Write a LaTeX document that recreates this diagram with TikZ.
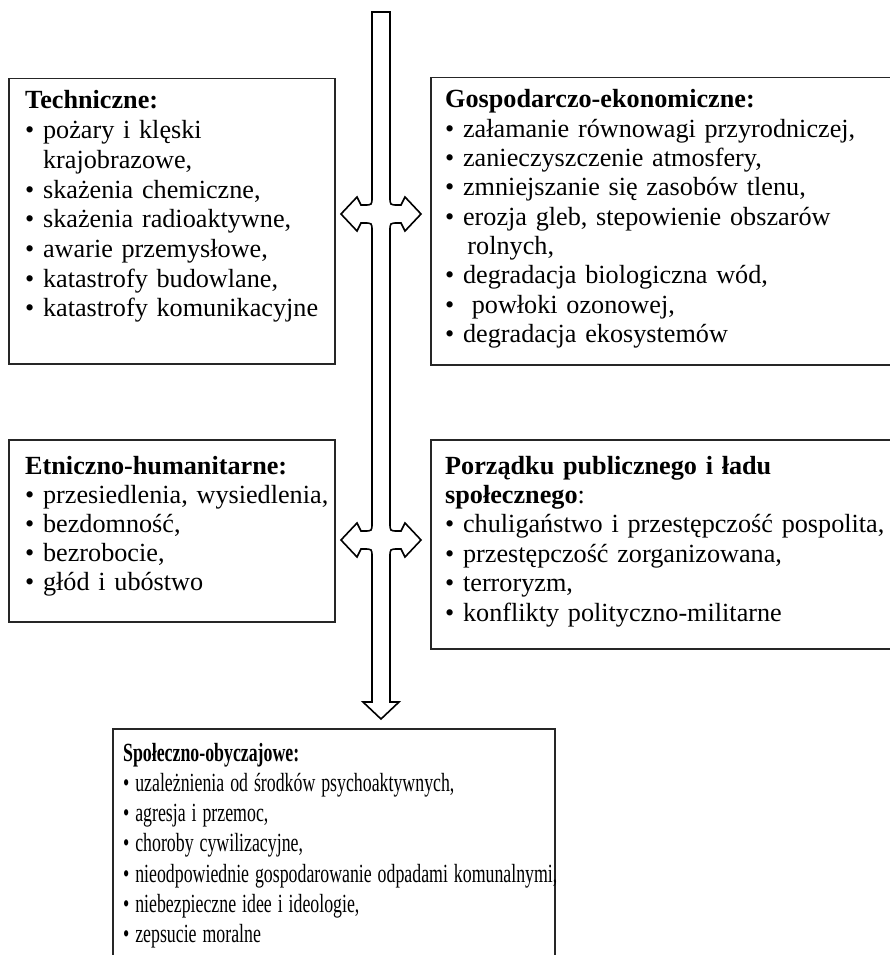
\documentclass[tikz,border=0pt]{standalone}
\usepackage{fontspec}
\setmainfont{Liberation Serif}
\begin{document}
\begin{tikzpicture}[x=1pt,y=-1pt,
  box/.style={draw=black!85, line width=1.5pt, anchor=north west, inner sep=0pt},
  txt/.style={anchor=base west, inner sep=0pt, text width=460pt, align=left},
  arrowshape/.style={draw=black, fill=white, line width=1.6pt}]
\clip (0,0) rectangle (890,955);
\fill[white] (0,0) rectangle (890,955);

% boxes
\node[box, minimum width=326pt, minimum height=285pt] (tech) at (8,78) {};
\node[box, minimum width=470pt, minimum height=287pt] (gosp) at (430,77) {};
\node[box, minimum width=326pt, minimum height=182pt] (etn) at (8,439) {};
\node[box, minimum width=470pt, minimum height=209pt] (porz) at (430,439) {};
\node[box, minimum width=442pt, minimum height=260pt] (spol) at (112,728) {};

% texts
\node[txt, font=\fontsize{26.2}{29.7}\selectfont] (techtxt) at (25,109) {%
\textbf{Techniczne:}\\
•\ pożary i klęski\\
\phantom{•\ }krajobrazowe,\\
•\ skażenia chemiczne,\\
•\ skażenia radioaktywne,\\
•\ awarie przemysłowe,\\
•\ katastrofy budowlane,\\
•\ katastrofy komunikacyjne};

\node[txt, font=\fontsize{26.2}{29.3}\selectfont] (gosptxt) at (445,108) {%
\textbf{Gospodarczo-ekonomiczne:}\\
•\ załamanie równowagi przyrodniczej,\\
•\ zanieczyszczenie atmosfery,\\
•\ zmniejszanie się zasobów tlenu,\\
•\ erozja gleb, stepowienie obszarów\\
\phantom{•\ }\,rolnych,\\
•\ degradacja biologiczna wód,\\
•\ \ powłoki ozonowej,\\
•\ degradacja ekosystemów};

\node[txt, font=\fontsize{26.2}{29}\selectfont] (etntxt) at (25,474) {%
\textbf{Etniczno-humanitarne:}\\
•\ przesiedlenia, wysiedlenia,\\
•\ bezdomność,\\
•\ bezrobocie,\\
•\ głód i ubóstwo};

\node[txt, font=\fontsize{26.2}{29.4}\selectfont] (porztxt) at (445,474) {%
\textbf{Porządku publicznego i ładu}\\
\textbf{społecznego}:\\
•\ chuligaństwo i przestępczość pospolita,\\
•\ przestępczość zorganizowana,\\
•\ terroryzm,\\
•\ konflikty polityczno-militarne};

\node[txt, xscale=0.68, transform shape, text width=700pt, font=\fontsize{26.2}{30.3}\selectfont] (spoltxt) at (123,761) {%
\textbf{Społeczno-obyczajowe:}\\
•\ uzależnienia od środków psychoaktywnych,\\
•\ agresja i przemoc,\\
•\ choroby cywilizacyjne,\\
•\ nieodpowiednie gospodarowanie odpadami komunalnymi,\\
•\ niebezpieczne idee i ideologie,\\
•\ zepsucie moralne};

% central arrow
\draw[arrowshape] (372,12) -- (372,197) .. controls (372,205) .. (364,205) -- (361,205) -- (357,197) -- (341,214) -- (357,231) -- (361,223) -- (364,223) .. controls (372,223) .. (372,231)
 -- (372,523) .. controls (372,531) .. (364,531) -- (361,531) -- (357,523) -- (341,540) -- (357,557) -- (361,549) -- (364,549) .. controls (372,549) .. (372,557)
 -- (372,702) -- (363,702) -- (381,719) -- (399,702) -- (390,702)
 -- (390,557) .. controls (390,549) .. (398,549) -- (401,549) -- (405,557) -- (421,540) -- (405,523) -- (401,531) -- (398,531) .. controls (390,531) .. (390,523)
 -- (390,231) .. controls (390,223) .. (398,223) -- (401,223) -- (405,231) -- (421,214) -- (405,197) -- (401,205) -- (398,205) .. controls (390,205) .. (390,197)
 -- (390,12) -- cycle;
\end{tikzpicture}
\end{document}
